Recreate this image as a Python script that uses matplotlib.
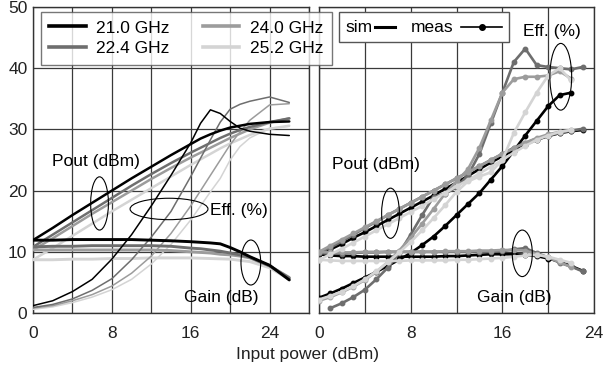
import matplotlib
matplotlib.use("Agg")
import matplotlib.pyplot as plt
from matplotlib.patches import Ellipse, Rectangle
from matplotlib.lines import Line2D

plt.rcParams['font.family'] = ['Liberation Sans', 'DejaVu Sans']
FS = 12.5

# ---------------- data ----------------
freq_labels = ["21.0 GHz", "22.4 GHz", "24.0 GHz", "25.2 GHz"]
colors = ["#000000", "#6e6e6e", "#9c9c9c", "#d4d4d4"]

# simulation (left panel)
pin_sim = [0, 2, 4, 6, 8, 10, 12, 14, 16, 17, 18, 19, 20, 21, 22, 24, 26]
gain_sim_21 = [11.9, 11.9, 12.0, 12.0, 12.0, 12.0, 11.9, 11.8, 11.65, 11.55, 11.45, 11.3, 10.7, 10.0, 9.2, 7.8, 5.4]
gain_sim_224 = [10.8, 10.9, 10.9, 11.0, 11.0, 11.0, 11.0, 10.9, 10.6, 10.5, 10.3, 10.1, 9.8, 9.5, 9.1, 7.7, 5.7]
gain_sim_24 = [10.3, 10.3, 10.3, 10.3, 10.3, 10.3, 10.3, 10.2, 10.0, 9.9, 9.8, 9.6, 9.5, 9.3, 9.0, 7.7, 5.8]
gain_sim_252 = [8.7, 8.7, 8.8, 8.8, 8.9, 8.9, 9.0, 9.0, 9.0, 8.95, 8.9, 8.85, 8.8, 8.6, 8.4, 7.4, 5.5]

pout_sim_21 = [11.9, 13.9, 16.0, 18.0, 20.0, 22.0, 23.9, 25.8, 27.6, 28.5, 29.2, 29.8, 30.3, 30.6, 30.9, 31.2, 31.3]
pout_sim_224 = [10.8, 12.8, 14.8, 16.8, 18.8, 20.8, 22.7, 24.5, 26.2, 27.0, 27.8, 28.6, 29.3, 29.9, 30.4, 31.2, 31.8]
pout_sim_24 = [10.3, 12.2, 14.2, 16.2, 18.1, 20.0, 21.9, 23.7, 25.4, 26.2, 27.0, 27.8, 28.6, 29.3, 30.0, 31.1, 31.8]
pout_sim_252 = [8.7, 10.6, 12.6, 14.6, 16.6, 18.5, 20.4, 22.3, 24.2, 25.1, 26.0, 26.9, 27.7, 28.4, 29.1, 30.1, 30.6]

eff_sim_21 = [1.2, 2.0, 3.5, 5.5, 8.8, 12.8, 17.5, 22.5, 27.8, 31.0, 33.2, 32.6, 31.3, 30.2, 29.7, 29.2, 29.0]
eff_sim_224 = [0.9, 1.4, 2.3, 3.7, 5.6, 8.7, 12.4, 16.6, 22.3, 25.3, 28.3, 31.2, 33.3, 34.1, 34.6, 35.3, 34.4]
eff_sim_24 = [0.8, 1.2, 2.0, 3.0, 4.4, 6.5, 9.3, 13.0, 17.5, 20.0, 22.5, 25.0, 27.5, 29.6, 31.5, 34.0, 34.2]
eff_sim_252 = [0.6, 1.0, 1.7, 2.6, 3.8, 5.5, 8.0, 11.2, 15.2, 17.5, 19.8, 22.0, 25.0, 27.2, 28.6, 30.2, 30.5]

# measurement (right panel)
pin_meas = list(range(0, 24))
pout_meas_21 = [9.6, 10.4, 11.3, 12.3, 13.2, 14.2, 15.2, 16.2, 17.2, 18.2, 19.2, 20.3, 21.3, 22.4, 23.5, 24.6, 25.6, 26.6, 27.5, 28.3, 28.9, 29.4, 29.7, 29.9]
pout_meas_224 = [9.8, 10.7, 11.7, 12.8, 13.9, 14.9, 16.0, 17.0, 18.0, 19.0, 20.0, 21.0, 22.0, 23.0, 24.0, 25.0, 26.0, 27.0, 27.8, 28.5, 29.0, 29.4, 29.8, 30.1]
pout_meas_24 = [10.0, 11.0, 12.0, 13.0, 14.0, 15.0, 16.0, 17.0, 18.0, 19.0, 20.0, 21.0, 22.0, 23.0, 24.0, 25.0, 26.0, 26.9, 27.8, 28.6, 29.2, 29.6, 29.9]
pout_meas_252 = [8.7, 9.6, 10.5, 11.5, 12.5, 13.5, 14.5, 15.5, 16.5, 17.5, 18.6, 19.6, 20.7, 21.7, 22.8, 23.9, 25.0, 26.2, 27.3, 28.3, 29.0, 29.6, 29.9]

gain_meas_21 = [9.6, 9.4, 9.3, 9.3, 9.2, 9.2, 9.2, 9.2, 9.2, 9.2, 9.2, 9.3, 9.3, 9.4, 9.5, 9.6, 9.6, 9.6, 9.5, 9.3, 8.9, 8.4, 7.7, 6.9]
gain_meas_224 = [9.8, 9.7, 9.7, 9.8, 9.9, 9.9, 10.0, 10.0, 10.0, 10.0, 10.0, 10.0, 10.0, 10.0, 10.0, 10.0, 10.1, 10.4, 10.6, 9.8, 9.1, 8.2, 7.6, 6.8]
gain_meas_24 = [10.0, 9.9, 9.9, 9.9, 10.0, 10.0, 10.0, 10.0, 10.0, 10.0, 10.0, 10.1, 10.1, 10.1, 10.2, 10.2, 10.3, 10.3, 10.2, 9.6, 9.1, 8.3, 7.5]
gain_meas_252 = [8.7, 8.6, 8.5, 8.5, 8.5, 8.5, 8.5, 8.5, 8.6, 8.6, 8.6, 8.6, 8.7, 8.7, 8.8, 8.9, 9.0, 9.2, 9.4, 9.5, 9.2, 8.7, 8.2]

eff_meas_21 = [2.5, 3.2, 4.0, 4.9, 5.8, 6.7, 7.7, 8.7, 9.8, 11.1, 12.5, 14.2, 16.0, 17.8, 19.6, 21.8, 24.0, 26.5, 29.0, 31.4, 33.8, 35.6, 36.0]
pin_meas_224_eff = list(range(1, 24))
eff_meas_224 = [0.8, 1.6, 2.6, 3.8, 5.5, 7.4, 9.8, 12.8, 16.0, 19.0, 19.5, 20.5, 22.5, 26.0, 31.0, 36.0, 41.0, 43.2, 40.5, 40.2, 40.0, 39.8, 40.2]
eff_meas_24 = [2.0, 2.6, 3.4, 4.3, 5.4, 6.7, 8.3, 10.2, 12.3, 14.6, 17.0, 19.5, 21.5, 23.5, 27.0, 31.5, 36.0, 38.2, 38.6, 38.6, 38.8, 39.5, 38.3]
eff_meas_252 = [2.2, 2.8, 3.5, 4.4, 5.5, 6.8, 8.3, 9.9, 11.6, 13.5, 15.5, 17.6, 19.8, 21.5, 22.3, 23.0, 25.0, 29.4, 32.8, 36.0, 38.8, 40.0, 38.0]

gain_sim = [gain_sim_21, gain_sim_224, gain_sim_24, gain_sim_252]
pout_sim = [pout_sim_21, pout_sim_224, pout_sim_24, pout_sim_252]
eff_sim = [eff_sim_21, eff_sim_224, eff_sim_24, eff_sim_252]
gain_meas = [gain_meas_21, gain_meas_224, gain_meas_24, gain_meas_252]
pout_meas = [pout_meas_21, pout_meas_224, pout_meas_24, pout_meas_252]
eff_meas = [eff_meas_21, eff_meas_224, eff_meas_24, eff_meas_252]
eff_meas_x = [pin_meas, pin_meas_224_eff, pin_meas, pin_meas]

x_ticks = [0, 8, 16, 24]
y_ticks = [0, 10, 20, 30, 40, 50]

# ---------------- figure ----------------
W, H = 606, 369
fig = plt.figure(figsize=(W / 100, H / 100), dpi=100)

def fx(px):
    return px / W

def fy(py):
    return 1 - py / H

axL = fig.add_axes([fx(33), fy(313), fx(309) - fx(33), fy(7) - fy(313)])
axR = fig.add_axes([fx(319), fy(313), fx(594) - fx(319), fy(7) - fy(313)])

GRID = "#3a3a3a"
for ax, xmax in ((axL, 28), (axR, 24)):
    ax.set_xlim(0, xmax)
    ax.set_ylim(0, 50)
    ax.set_xticks(list(range(0, xmax + 1, 4)), minor=False)
    ax.set_yticks(y_ticks)
    ax.grid(True, color=GRID, lw=0.9)
    ax.set_axisbelow(True)
    ax.tick_params(length=0, labelsize=FS, colors="#222222", pad=4)
    ax.tick_params(axis="x", pad=9)
    for s in ax.spines.values():
        s.set_color("#333333")
        s.set_linewidth(1.0)
    ax.set_xticklabels([str(t) if t in x_ticks else "" for t in range(0, xmax + 1, 4)])

axR.set_yticklabels([])

# left: simulation
for i in range(4):
    axL.plot(pin_sim, gain_sim[i], color=colors[i], lw=2.1, solid_capstyle="round", zorder=3 + (3 - i))
    axL.plot(pin_sim, pout_sim[i], color=colors[i], lw=1.8, solid_capstyle="round", zorder=3 + (3 - i))
    axL.plot(pin_sim, eff_sim[i], color=colors[i], lw=1.1, solid_capstyle="round", zorder=3 + (3 - i))

# right: measurement
for i in range(4):
    kw = dict(color=colors[i], lw=1.9, marker="o", ms=3.2, zorder=3 + i)
    axR.plot(pin_meas[:len(gain_meas[i])], gain_meas[i], **kw)
    axR.plot(pin_meas[:len(pout_meas[i])], pout_meas[i], **kw)
    axR.plot(eff_meas_x[i][:len(eff_meas[i])], eff_meas[i], **kw)

# annotations (ellipses + labels)
def ell(ax, cx, cy, w, h):
    ax.add_patch(Ellipse((cx, cy), w, h, fill=False, ec="black", lw=0.8, zorder=10))

ell(axL, 6.75, 17.9, 1.8, 8.7)
ell(axL, 13.8, 17.0, 7.9, 3.5)
ell(axL, 22.1, 8.25, 2.0, 7.35)
axL.text(6.4, 24.8, "Pout (dBm)", fontsize=FS, ha="center", va="center", zorder=11)
axL.text(18.0, 16.7, "Eff. (%)", fontsize=FS, ha="left", va="center", zorder=11)
axL.text(19.1, 2.6, "Gain (dB)", fontsize=FS, ha="center", va="center", zorder=11)

ell(axR, 21.1, 38.6, 1.9, 10.9)
ell(axR, 6.24, 16.3, 1.55, 8.2)
ell(axR, 17.74, 9.75, 1.75, 7.6)
axR.text(20.3, 46.0, "Eff. (%)", fontsize=FS, ha="center", va="center", zorder=11)
axR.text(4.97, 24.3, "Pout (dBm)", fontsize=FS, ha="center", va="center", zorder=11)
axR.text(17.0, 2.6, "Gain (dB)", fontsize=FS, ha="center", va="center", zorder=11)

fig.text(fx(308), fy(355), "Input power (dBm)", fontsize=FS, ha="center", va="center", color="#222222")

# left legend (frequencies)
handles = [Line2D([], [], color=c, lw=2.6) for c in colors]
leg = fig.legend(handles, freq_labels, ncol=2, loc="upper left",
                 bbox_to_anchor=(fx(40.7), fy(11.7)), borderaxespad=0,
                 fontsize=FS, frameon=True, fancybox=False, handlelength=2.1,
                 handletextpad=0.6, columnspacing=1.9, labelspacing=0.3,
                 borderpad=0.5)
leg.get_frame().set_edgecolor("#555555")
leg.get_frame().set_linewidth(1.0)
leg.set_zorder(20)

# right legend (sim / meas) drawn manually in figure coordinates
box = Rectangle((fx(339.3), fy(41.7)), fx(509.3) - fx(339.3), fy(11.7) - fy(41.7),
                transform=fig.transFigure, facecolor="white", edgecolor="#555555", lw=1.0, zorder=20)
fig.add_artist(box)
fig.text(fx(345), fy(27), "sim", fontsize=FS, ha="left", va="center", zorder=21)
fig.add_artist(Line2D([fx(375), fx(395)], [fy(26.5), fy(26.5)], transform=fig.transFigure,
                      color="black", lw=2.2, zorder=21))
fig.text(fx(411), fy(27), "meas", fontsize=FS, ha="left", va="center", zorder=21)
fig.add_artist(Line2D([fx(461), fx(502)], [fy(26.5), fy(26.5)], transform=fig.transFigure,
                      color="black", lw=1.2, zorder=21))
fig.add_artist(Line2D([fx(481.5)], [fy(26.5)], transform=fig.transFigure, color="black",
                      marker="o", ms=4, zorder=22))

fig.savefig("out.png", dpi=100)
